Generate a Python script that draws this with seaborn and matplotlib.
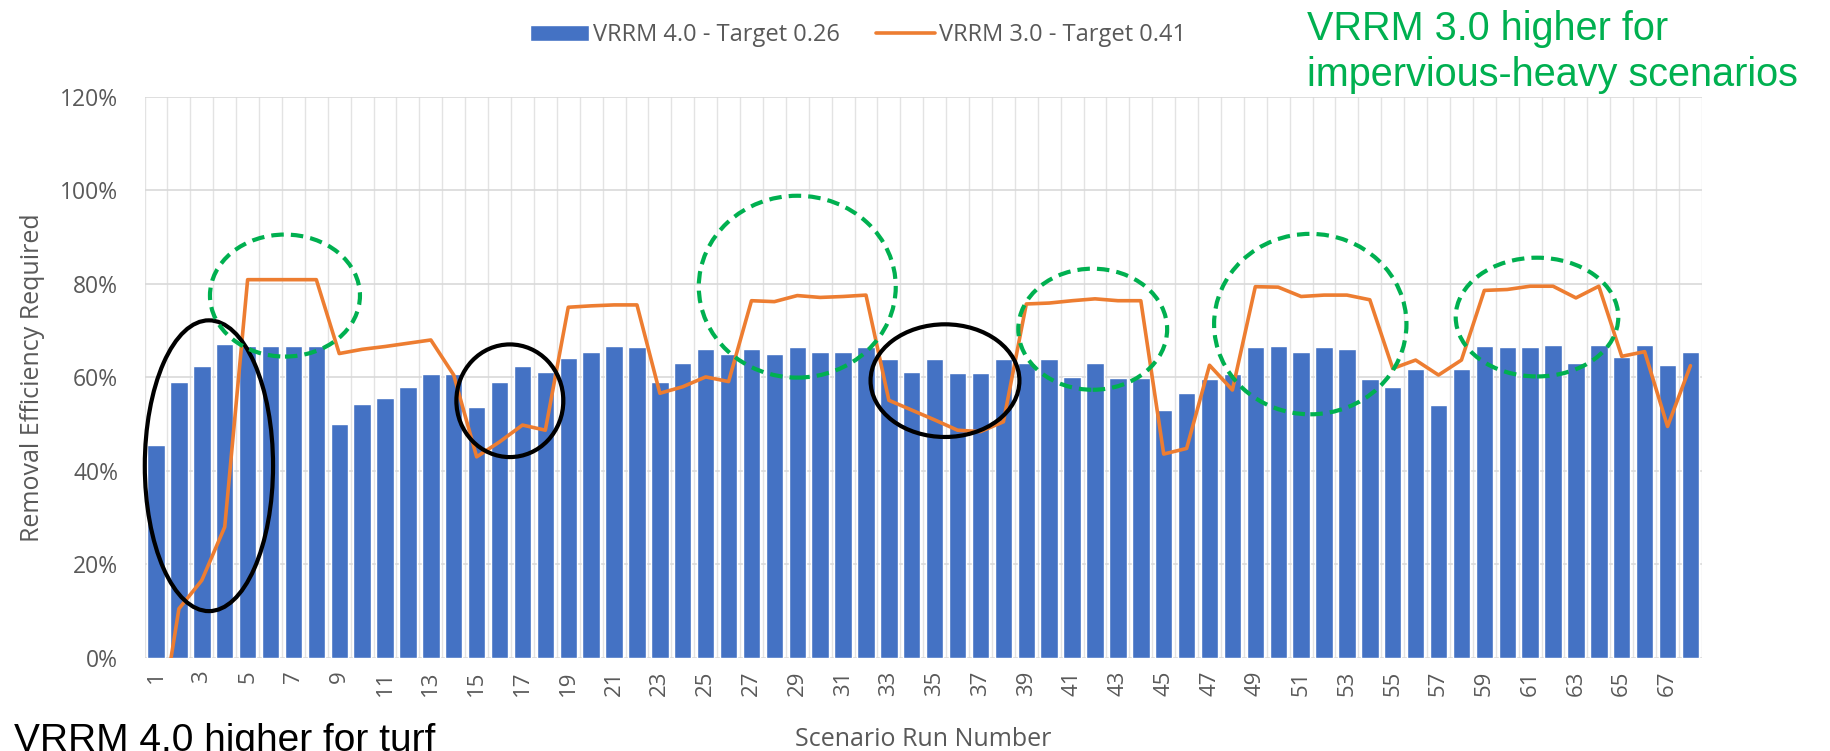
import matplotlib
matplotlib.use('Agg')
import matplotlib.pyplot as plt
import seaborn as sns
import numpy as np
import pandas as pd
from matplotlib.patches import Ellipse
from matplotlib.ticker import PercentFormatter

scenarios = [str(i) for i in range(1, 69)]
tick_labels = [str(i) for i in range(1, 68, 2)]

# removal efficiency required, in percent
vrrm4_pct = [45.5, 59.1, 62.5, 67.1, 66.7, 66.7, 66.7, 66.7, 50.1, 54.4,
             55.6, 57.9, 60.7, 60.7, 53.6, 59.1, 62.5, 61.2, 64.2, 65.5,
             66.7, 66.4, 59.1, 63.0, 66.0, 65.1, 66.0, 65.1, 66.4, 65.5,
             65.5, 66.4, 63.9, 61.2, 63.9, 60.9, 60.9, 63.9, 63.0, 63.9,
             60.0, 63.0, 59.9, 59.9, 53.1, 56.6, 59.6, 60.7, 66.4, 66.8,
             65.5, 66.4, 66.0, 59.6, 57.9, 61.7, 54.1, 61.7, 66.8, 66.5,
             66.5, 67.0, 63.0, 67.0, 64.4, 67.0, 62.7, 65.4]
vrrm3_pct = [-20.0, 10.5, 16.6, 28.0, 80.9, 80.9, 80.9, 80.9, 65.1, 66.0,
             66.6, 67.3, 68.0, 60.5, 43.0, 46.2, 49.8, 48.7, 75.0, 75.3,
             75.5, 75.5, 56.6, 58.0, 60.1, 59.1, 76.4, 76.2, 77.5, 77.1,
             77.3, 77.6, 55.1, 53.0, 50.9, 48.7, 48.4, 50.5, 75.7, 75.9,
             76.4, 76.8, 76.4, 76.4, 43.6, 44.8, 62.6, 57.3, 79.4, 79.3,
             77.3, 77.6, 77.6, 76.6, 61.9, 63.7, 60.5, 63.7, 78.6, 78.8,
             79.5, 79.5, 77.0, 79.5, 64.5, 65.5, 49.5, 62.5]

# callout rings: (center index, center value, width, height)
black_rings = [(2.31, 0.411, 5.6, 0.622), (15.45, 0.55, 4.67, 0.241), (34.45, 0.593, 6.5, 0.241)]
green_rings = [(5.63, 0.775, 6.55, 0.261), (28.0, 0.794, 8.6, 0.389), (40.9, 0.703, 6.5, 0.259),
               (50.4, 0.714, 8.4, 0.386), (60.3, 0.729, 7.1, 0.254)]

df = pd.DataFrame({'Scenario': scenarios,
                   'v4': np.array(vrrm4_pct) / 100,
                   'v3': np.array(vrrm3_pct) / 100})
df['pos'] = np.arange(len(df))

sns.set_theme(style='white')
plt.rcParams['font.family'] = ['Open Sans', 'DejaVu Sans']
grey = '#595959'

fig = plt.figure(figsize=(18.3, 7.51), dpi=100)
ax = fig.add_axes([0.079, 0.124, 0.851, 0.747])

sns.barplot(data=df, x='Scenario', y='v4', color='#4472C4', saturation=1, width=0.76,
            ax=ax, label='VRRM 4.0 - Target 0.26', zorder=2)
sns.lineplot(data=df, x='pos', y='v3', color='#ED7D31', lw=2.6, ax=ax,
             label='VRRM 3.0 - Target 0.41', zorder=3)

ax.set_xlim(-0.5, len(df) - 0.5)
ax.set_ylim(0, 1.2)
ax.set_yticks(np.arange(0, 1.21, 0.2))
ax.yaxis.set_major_formatter(PercentFormatter(1.0, decimals=0))
ax.set_xticks(np.arange(0, len(df), 2))
ax.set_xticklabels(tick_labels, rotation=90)
ax.set_xticks(np.arange(-0.5, len(df), 1), minor=True)
ax.grid(False)
ax.grid(which='major', axis='y', color='#D9D9D9', lw=1.2, zorder=0)
ax.grid(which='minor', axis='x', color='#E3E3E3', lw=1.0, zorder=0)
ax.set_axisbelow(True)
sns.despine(ax=ax, left=True, bottom=True)
ax.tick_params(axis='y', length=0, pad=19, labelsize=16.5, labelcolor=grey)
ax.tick_params(axis='x', which='both', length=0, pad=9, labelsize=16, labelcolor=grey)

ax.set_xlabel('Scenario Run Number', fontsize=18, color=grey)
ax.set_ylabel('Removal Efficiency Required', fontsize=18, color=grey)
ax.xaxis.set_label_coords(0.5, -0.124)
ax.yaxis.set_label_coords(-0.064, 0.5)

for cx, cy, w, h in black_rings:
    ax.add_patch(Ellipse((cx, cy), w, h, fill=False, ec='black', lw=3, zorder=5, clip_on=False))
for cx, cy, w, h in green_rings:
    ax.add_patch(Ellipse((cx, cy), w, h, fill=False, ec='#00B050', lw=3,
                         linestyle=(0, (3, 1.7)), zorder=5, clip_on=False))

handles, labels = ax.get_legend_handles_labels()
if ax.get_legend() is not None:
    ax.get_legend().remove()
order = [labels.index('VRRM 4.0 - Target 0.26'), labels.index('VRRM 3.0 - Target 0.41')]
fig.legend([handles[i] for i in order], [labels[i] for i in order], loc='center',
           bbox_to_anchor=(858 / 1830, 0.953), ncol=2, frameon=False, fontsize=17,
           labelcolor=grey, handlelength=2.5, handletextpad=0.2, columnspacing=1.5)

fig.text(1307 / 1830, 1 - 10 / 751, 'VRRM 3.0 higher for\nimpervious-heavy scenarios',
         color='#00B050', fontsize=28.5, family='Liberation Sans', va='top', ha='left',
         linespacing=1.25)
fig.text(14 / 1830, 1 - 723 / 751, 'VRRM 4.0 higher for turf',
         color='black', fontsize=28, family='Liberation Sans', va='top', ha='left')

fig.savefig('out.png', dpi=100)
